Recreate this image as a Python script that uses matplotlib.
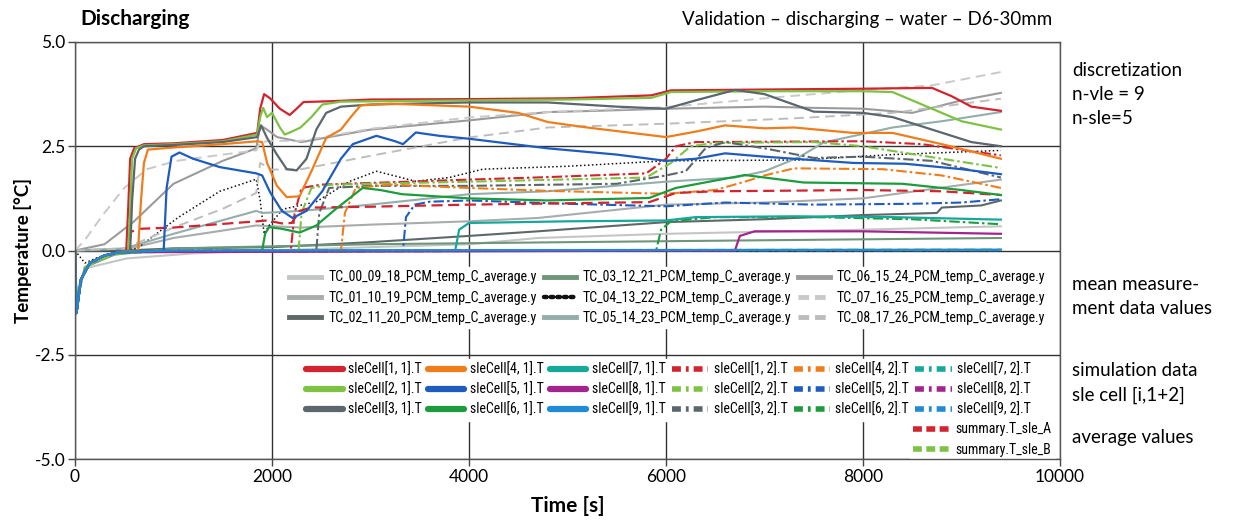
import matplotlib
matplotlib.use("Agg")
import matplotlib.pyplot as plt
from matplotlib.lines import Line2D
from matplotlib import font_manager

names = {f.name for f in font_manager.fontManager.ttflist}
NARROW = next((n for n in ['Liberation Sans Narrow', 'Roboto Condensed', 'DejaVu Sans Condensed', 'Roboto'] if n in names), 'DejaVu Sans')
MAIN = 'Lato' if 'Lato' in names else 'DejaVu Sans'

# ---------------- data (time [s], temperature [°C]) ----------------
TR = [(0, 0), (15, -1.5), (60, -0.7), (150, -0.3), (300, -0.12), (450, -0.04)]

sle11 = TR + [(520, -0.02), (540, 1.0), (560, 2.2), (600, 2.45), (700, 2.55), (1000, 2.57), (1500, 2.65), (1850, 2.82), (1880, 3.4), (1920, 3.75), (1980, 3.65), (2080, 3.4), (2180, 3.25), (2250, 3.4), (2320, 3.56), (2600, 3.58), (3000, 3.62), (4000, 3.63), (5000, 3.65), (5850, 3.72), (6050, 3.84), (7000, 3.86), (8000, 3.88), (8700, 3.9), (8900, 3.7), (9100, 3.45), (9400, 3.35)]
sle21 = TR + [(540, -0.01), (560, 1.0), (580, 2.2), (620, 2.45), (700, 2.52), (1000, 2.55), (1500, 2.62), (1850, 2.78), (1880, 3.2), (1910, 3.42), (1950, 3.2), (2000, 3.3), (2080, 2.95), (2130, 2.78), (2200, 2.85), (2290, 2.95), (2400, 3.2), (2510, 3.5), (2700, 3.57), (4000, 3.6), (5000, 3.62), (5850, 3.66), (6050, 3.8), (7000, 3.82), (8000, 3.82), (8300, 3.8), (8600, 3.5), (9000, 3.1), (9400, 2.9)]
sle31 = TR + [(560, 0.0), (580, 1.2), (610, 2.2), (650, 2.42), (700, 2.5), (1000, 2.53), (1500, 2.6), (1850, 2.72), (1890, 3.0), (1950, 2.7), (2050, 2.3), (2150, 1.95), (2250, 1.92), (2350, 2.2), (2450, 2.9), (2550, 3.3), (2700, 3.45), (3000, 3.5), (4000, 3.55), (4800, 3.55), (5500, 3.45), (6000, 3.4), (6300, 3.6), (6700, 3.85), (7000, 3.75), (7500, 3.33), (8000, 3.3), (8300, 3.2), (8700, 2.9), (9100, 2.6), (9400, 2.5)]
sle41 = TR + [(640, 0.0), (670, 1.2), (700, 2.1), (740, 2.42), (1000, 2.47), (1500, 2.55), (1850, 2.62), (1900, 2.6), (1950, 2.1), (2050, 1.55), (2150, 1.28), (2280, 1.3), (2400, 1.9), (2550, 2.7), (2700, 2.9), (2800, 3.2), (2900, 3.48), (3200, 3.52), (4000, 3.45), (4500, 3.3), (4800, 3.08), (5200, 2.95), (6000, 2.72), (6300, 2.85), (6600, 3.0), (7000, 2.93), (7300, 2.95), (7900, 2.82), (8300, 2.82), (8800, 2.55), (9400, 2.2)]
sle51 = TR + [(900, -0.01), (930, 1.5), (980, 2.25), (1060, 2.35), (1200, 2.2), (1470, 2.0), (1840, 1.85), (1900, 1.8), (1980, 1.4), (2100, 0.95), (2210, 0.78), (2350, 0.95), (2510, 1.42), (2700, 2.2), (2820, 2.55), (3060, 2.75), (3250, 2.62), (3330, 2.55), (3460, 2.83), (3700, 2.75), (4000, 2.68), (4800, 2.45), (5500, 2.3), (6000, 2.15), (6300, 2.2), (6600, 2.33), (7000, 2.25), (7900, 2.1), (8430, 2.08), (9000, 1.95), (9400, 1.83)]
sle61 = TR + [(1900, 0.0), (1930, 0.4), (1970, 0.56), (2100, 0.52), (2280, 0.43), (2450, 0.6), (2650, 1.0), (2920, 1.5), (3100, 1.45), (3320, 1.35), (4000, 1.25), (4800, 1.2), (5830, 1.26), (6100, 1.5), (6800, 1.81), (7400, 1.63), (8400, 1.6), (9000, 1.45), (9400, 1.33)]
sle71 = TR + [(3860, 0.0), (3900, 0.5), (4000, 0.66), (5000, 0.7), (6000, 0.72), (6300, 0.8), (7300, 0.82), (8300, 0.8), (9400, 0.74)]
sle81 = TR + [(6700, 0.0), (6750, 0.35), (6900, 0.46), (8000, 0.46), (9400, 0.4)]
sle91 = TR + [(1000, 0.0), (9400, 0.02)]

sle12 = TR + [(2190, 0.0), (2230, 0.9), (2300, 1.5), (2500, 1.58), (3000, 1.62), (4000, 1.7), (4800, 1.76), (5800, 1.85), (6000, 2.2), (6100, 2.5), (6300, 2.6), (8000, 2.62), (8600, 2.55), (9400, 2.28)]
sle22 = TR + [(2270, 0.0), (2300, 0.9), (2400, 1.5), (2600, 1.58), (4000, 1.65), (5800, 1.75), (6050, 2.1), (6250, 2.5), (6500, 2.58), (7500, 2.6), (8000, 2.5), (8800, 2.2), (9400, 1.98)]
sle32 = TR + [(2450, 0.0), (2480, 0.9), (2580, 1.5), (3000, 1.55), (4000, 1.55), (5500, 1.6), (6000, 1.8), (6200, 1.9), (6400, 2.45), (6600, 2.6), (7000, 2.45), (7500, 2.22), (8000, 2.25), (8700, 2.15), (9400, 1.75)]
sle42 = TR + [(2700, 0.0), (2740, 0.9), (2850, 1.5), (3200, 1.58), (4000, 1.5), (4800, 1.43), (6000, 1.36), (6500, 1.45), (6800, 1.65), (7000, 1.8), (7300, 1.97), (8200, 1.95), (8800, 1.8), (9400, 1.5)]
sle52 = TR + [(3330, 0.0), (3360, 0.8), (3450, 1.1), (3600, 1.17), (4000, 1.2), (5000, 1.12), (6000, 1.06), (6600, 1.15), (7500, 1.1), (8500, 1.12), (9000, 1.15), (9400, 1.23)]
sle62 = TR + [(5900, 0.0), (5950, 0.5), (6050, 0.7), (6500, 0.8), (7500, 0.8), (8500, 0.75), (9400, 0.63)]
sle72 = TR + [(1000, 0.0), (9400, 0.01)]
sle82 = TR + [(1000, 0.0), (9400, 0.01)]
sle92 = TR + [(1000, 0.0), (9400, 0.01)]

sumA = TR + [(540, 0.0), (570, 0.45), (650, 0.52), (1000, 0.55), (1850, 0.7), (1950, 0.72), (2100, 0.65), (2200, 0.66), (2280, 0.95), (2400, 1.03), (3000, 1.05), (4000, 1.1), (5830, 1.16), (6100, 1.38), (6500, 1.42), (8000, 1.45), (8800, 1.42), (9400, 1.33)]
sumB = [(0, 0), (15, -1.2), (100, -0.4), (400, -0.08), (1000, 0.0), (9400, 0.02)]

tc00 = [(0, 0), (15, -1.0), (100, -0.43), (525, -0.19), (1200, -0.07), (2000, 0.0), (3000, 0.08), (4000, 0.15), (4700, 0.3), (6000, 0.4), (8000, 0.5), (9400, 0.58)]
tc01 = [(0, 0), (500, 0.02), (1000, 0.3), (1840, 0.6), (2300, 0.55), (3000, 0.62), (4000, 0.7), (4700, 0.78), (6000, 1.1), (7000, 1.15), (8000, 1.25), (9400, 1.7)]
tc02 = [(0, 0), (500, 0.0), (1000, 0.05), (2000, 0.08), (3000, 0.2), (4000, 0.35), (4700, 0.46), (6000, 0.68), (7000, 0.75), (8000, 0.85), (8750, 0.9), (8800, 1.03), (9200, 1.08), (9400, 1.2)]
tc03 = [(0, 0), (15, -1.3), (100, -0.4), (400, -0.1), (1000, 0.05), (2000, 0.1), (3000, 0.15), (5000, 0.2), (9400, 0.3)]
tc04 = [(0, 0), (100, -0.3), (300, -0.1), (630, 0.05), (1040, 0.78), (1470, 1.42), (1840, 1.71), (1880, 1.2), (1920, 0.4), (1970, 0.6), (2110, 0.99), (2450, 1.17), (2790, 1.66), (3060, 1.9), (3460, 1.66), (3800, 1.75), (4140, 1.95), (5000, 2.02), (6000, 2.15), (7345, 2.17), (8300, 2.3), (9400, 2.4)]
tc05 = [(0, 0), (500, 0.05), (1000, 0.4), (1840, 0.95), (1900, 0.9), (2300, 0.95), (3000, 1.1), (4000, 1.35), (4800, 1.42), (6000, 1.65), (6700, 1.75), (7000, 1.9), (7345, 2.23), (7600, 2.59), (8300, 2.95), (8800, 3.1), (9400, 3.32)]
tc06 = [(0, 0), (300, 0.15), (600, 0.7), (1000, 1.6), (1500, 2.15), (1840, 2.45), (1880, 3.0), (1950, 2.9), (2050, 2.72), (2300, 2.6), (3000, 2.9), (4000, 3.12), (4800, 3.32), (5300, 3.35), (6000, 3.4), (7000, 3.45), (7500, 3.42), (8000, 3.4), (8500, 3.3), (9000, 3.6), (9400, 3.78)]
tc07 = [(0, 0), (100, 0.25), (285, 0.86), (500, 1.5), (730, 1.95), (1030, 2.15), (1500, 2.3), (1840, 2.4), (1880, 2.6), (2000, 2.63), (2300, 2.63), (3000, 2.92), (4000, 3.19), (4800, 3.32), (6000, 3.44), (7100, 3.67), (8000, 3.85), (8700, 3.96), (9400, 4.28)]
tc08 = [(0, 0), (500, 0.05), (1000, 0.55), (1500, 1.0), (1840, 1.38), (1880, 2.1), (2000, 1.94), (2300, 1.95), (3000, 2.27), (4000, 2.71), (4800, 2.95), (6000, 3.04), (7300, 3.17), (8300, 3.3), (9400, 3.64)]

meas_labels = ['TC_00_09_18_PCM_temp_C_average.y', 'TC_01_10_19_PCM_temp_C_average.y', 'TC_02_11_20_PCM_temp_C_average.y',
               'TC_03_12_21_PCM_temp_C_average.y', 'TC_04_13_22_PCM_temp_C_average.y', 'TC_05_14_23_PCM_temp_C_average.y',
               'TC_06_15_24_PCM_temp_C_average.y', 'TC_07_16_25_PCM_temp_C_average.y', 'TC_08_17_26_PCM_temp_C_average.y']
meas_data = [tc00, tc01, tc02, tc03, tc04, tc05, tc06, tc07, tc08]
meas_colors = ['#c4c6c6', '#a9acac', '#5f6868', '#6f957b', '#111111', '#93aeab', '#9b9b9b', '#c9c9c9', '#bdbdbd']
meas_styles = ['-', '-', '-', '-', ':', '-', '-', '--', '--']

sle_colors = ['#d2232f', '#7dc243', '#5b666d', '#f07d1c', '#1e5cbf', '#1c9c3c', '#17a89c', '#a4248f', '#1f8bd5']
sle1_data = [sle11, sle21, sle31, sle41, sle51, sle61, sle71, sle81, sle91]
sle2_data = [sle12, sle22, sle32, sle42, sle52, sle62, sle72, sle82, sle92]
sle1_labels = [f'sleCell[{i}, 1].T' for i in range(1, 10)]
sle2_labels = [f'sleCell[{i}, 2].T' for i in range(1, 10)]
sum_data = [sumA, sumB]
sum_labels = ['summary.T_sle_A', 'summary.T_sle_B']
sum_colors = ['#d2232f', '#7dc243']

xticks = [0, 2000, 4000, 6000, 8000, 10000]
yticks = [-5.0, -2.5, 0.0, 2.5, 5.0]

# ---------------- figure ----------------
W, H = 1245, 526
fig = plt.figure(figsize=(W / 100, H / 100), dpi=100)
L, R, T, B = 75, 1060, 42, 459
ax = fig.add_axes([L / W, 1 - B / H, (R - L) / W, (B - T) / H])

def xy(d):
    return [p[0] for p in d], [p[1] for p in d]

for d, c, s in zip(meas_data, meas_colors, meas_styles):
    x, y = xy(d)
    if s == ':':
        ax.plot(x, y, color=c, lw=1.1, ls=(0, (1, 1.6)), zorder=3)
    elif s == '--':
        ax.plot(x, y, color=c, lw=1.4, ls=(0, (5, 3)), zorder=3)
    else:
        ax.plot(x, y, color=c, lw=1.5, zorder=3)

for d, c in zip(sle2_data, sle_colors):
    x, y = xy(d)
    ax.plot(x, y, color=c, lw=1.5, ls=(0, (5, 1.5, 1.2, 1.5)), zorder=4)
for d, c in zip(sum_data, sum_colors):
    x, y = xy(d)
    ax.plot(x, y, color=c, lw=1.6, ls=(0, (5, 2.5)), zorder=4)
for d, c in zip(sle1_data, sle_colors):
    x, y = xy(d)
    ax.plot(x, y, color=c, lw=1.6, zorder=5)

ax.set_xlim(0, 10000)
ax.set_ylim(-5, 5)
ax.set_xticks(xticks)
ax.set_xticklabels([str(v) for v in xticks], fontfamily=MAIN, fontsize=12.5)
ax.set_yticks(yticks)
ax.set_yticklabels([f'{v:.1f}' for v in yticks], fontfamily=MAIN, fontsize=12.5)
ax.tick_params(direction='out', length=5, width=1, color='#444444', pad=2)
for sp in ax.spines.values():
    sp.set_color('#555555')
    sp.set_linewidth(1.0)
    sp.set_zorder(6)
ax.grid(True, color='#333333', lw=1.0)
ax.set_axisbelow(True)

ax.set_xlabel('Time [s]', fontfamily=MAIN, fontsize=15, fontweight='bold', labelpad=8)
ax.set_ylabel('Temperature [°C]', fontfamily=MAIN, fontsize=13.5, fontweight='bold', labelpad=2)

# legends
fs_leg = 10
common = dict(prop={'family': NARROW, 'size': fs_leg}, frameon=True, facecolor='white', edgecolor='white',
              framealpha=1, fancybox=False, labelspacing=0.45, borderpad=0.25, borderaxespad=0,
              bbox_transform=fig.transFigure, loc='upper left')

h1 = []
for c, s in zip(meas_colors, meas_styles):
    if s == ':':
        h1.append(Line2D([], [], color=c, lw=3.2, ls=(0, (0.6, 0.9)), dash_capstyle='round'))
    elif s == '--':
        h1.append(Line2D([], [], color=c, lw=3.5, ls=(0, (2.2, 1.2))))
    else:
        h1.append(Line2D([], [], color=c, lw=3.5))
leg1 = ax.legend(h1, meas_labels, ncol=3, bbox_to_anchor=(286 / W, 1 - 267 / H),
                 handlelength=2.3, handletextpad=0.5, columnspacing=0.5, **common)
leg1.set_zorder(2)
ax.add_artist(leg1)

h2 = [Line2D([], [], color=c, lw=4.5, solid_capstyle='round') for c in sle_colors]
h2 += [Line2D([], [], color=c, lw=4.0, ls=(0, (1.6, 0.9, 0.5, 0.9))) for c in sle_colors]
leg2 = ax.legend(h2, sle1_labels + sle2_labels, ncol=6, bbox_to_anchor=(303 / W, 1 - 359 / H),
                 handlelength=2.6, handletextpad=0.4, columnspacing=0.45, **common)
leg2.set_zorder(2)
ax.add_artist(leg2)

h3 = [Line2D([], [], color=c, lw=4.0, ls=(0, (1.6, 0.8))) for c in sum_colors]
leg3 = ax.legend(h3, sum_labels, ncol=1, bbox_to_anchor=(910 / W, 1 - 419 / H),
                 handlelength=2.6, handletextpad=0.4, **common)
leg3.set_zorder(2)

# texts
def ftext(x, y, s, **kw):
    fig.text(x / W, 1 - y / H, s, fontfamily=MAIN, va='center', **kw)

ftext(80, 19, 'Discharging', fontsize=15, fontweight='bold', ha='left')
ftext(1052, 20, 'Validation – discharging – water – D6-30mm', fontsize=13.5, ha='right')
right = [(70, 'discretization'), (95, 'n-vle = 9'), (119, 'n-sle=5'),
         (285, 'mean measure-'), (309, 'ment data values'),
         (371, 'simulation data'), (395, 'sle cell [i,1+2]'), (438, 'average values')]
for yy, s in right:
    ftext(1072, yy, s, fontsize=13.5, ha='left')

fig.savefig('out.png', dpi=100, facecolor='white')
